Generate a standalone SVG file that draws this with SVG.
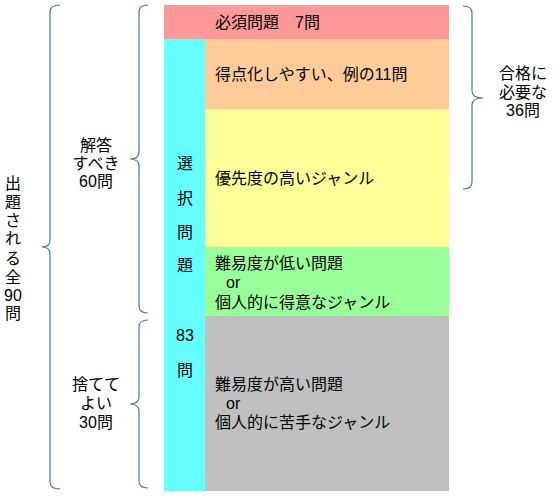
<svg xmlns="http://www.w3.org/2000/svg" width="554" height="496" viewBox="0 0 554 496">
<style>
text{font-family:"Liberation Sans","Noto Sans CJK JP",sans-serif;font-size:16px;fill:#000}
.c{text-anchor:middle}
.br{fill:none;stroke:#4472C4;stroke-width:1.2}
</style>
<rect width="554" height="496" fill="#fff"/>
<g id="hissu">
<rect x="164" y="5" width="285" height="34" fill="#FF9999"/>
<text x="215" y="27.5">必須問題　7問</text>
</g>
<g id="sentaku">
<rect x="164" y="39" width="41" height="452" fill="#66FFFF"/>
<text class="c" x="185" y="168.5">選</text>
<text class="c" x="185" y="203.5">択</text>
<text class="c" x="185" y="237.5">問</text>
<text class="c" x="185" y="270.5">題</text>
<text class="c" x="185" y="340.5">83</text>
<text class="c" x="185" y="375.5">問</text>
</g>
<g id="tokuten">
<rect x="205" y="39" width="244" height="70" fill="#FFCC99"/>
<text x="215" y="79.5">得点化しやすい、例の11問</text>
</g>
<g id="yusen">
<rect x="205" y="109" width="244" height="138" fill="#FFFF99"/>
<text x="215" y="184">優先度の高いジャンル</text>
</g>
<g id="easy">
<rect x="205" y="247" width="244" height="69" fill="#99FF99"/>
<text x="215" y="269">難易度が低い問題</text>
<text x="226" y="288">or</text>
<text x="215" y="307.5">個人的に得意なジャンル</text>
</g>
<g id="hard">
<rect x="205" y="316" width="244" height="175" fill="#C0C0C0"/>
<text x="215" y="390">難易度が高い問題</text>
<text x="226" y="408.5">or</text>
<text x="215" y="427.5">個人的に苦手なジャンル</text>
</g>
<g id="connectors">
<path class="br" d="M60 5 Q50 5 50 12 L50 240 Q50 247 42 247 Q50 247 50 254 L50 482 Q50 489 60 489"/>
<path class="br" d="M148 5 Q139 5 139 12 L139 152 Q139 159 130 159 Q139 159 139 166 L139 306 Q139 313 148 313"/>
<path class="br" d="M148 320 Q139 320 139 327 L139 397 Q139 404 130 404 Q139 404 139 411 L139 481 Q139 488 148 488"/>
<path class="br" d="M463 6 Q472 6 472 13 L472 91 Q472 98 483 98 Q472 98 472 105 L472 182 Q472 189 463 189"/>
</g>
<g id="zen">
<text class="c" x="13" y="188.5">出</text>
<text class="c" x="13" y="207.5">題</text>
<text class="c" x="13" y="225.5">さ</text>
<text class="c" x="13" y="243.5">れ</text>
<text class="c" x="13" y="263.5">る</text>
<text class="c" x="13" y="282.5">全</text>
<text class="c" x="13" y="300.5">90</text>
<text class="c" x="13" y="318.5">問</text>
</g>
<g id="kaito">
<text class="c" x="96" y="150.5">解答</text>
<text class="c" x="96" y="168.5">すべき</text>
<text class="c" x="96" y="186.5">60問</text>
</g>
<g id="sutete">
<text class="c" x="96" y="390">捨てて</text>
<text class="c" x="96" y="409">よい</text>
<text class="c" x="96" y="427.5">30問</text>
</g>
<g id="goukaku">
<text class="c" x="523" y="78.5">合格に</text>
<text class="c" x="523" y="98">必要な</text>
<text class="c" x="523" y="115.5">36問</text>
</g>
</svg>
